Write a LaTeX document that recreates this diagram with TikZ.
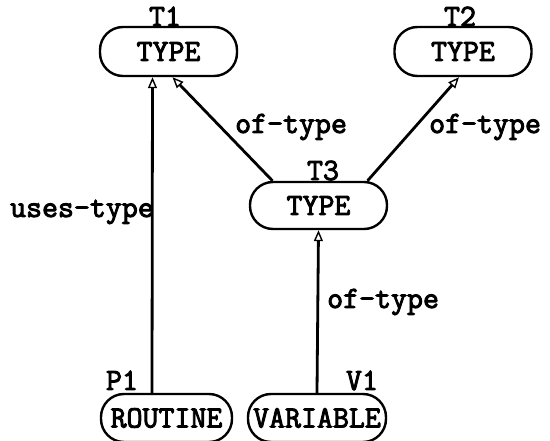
\documentclass[tikz,border=0pt]{standalone}
\usepackage{fontspec}
\newfontfamily\twfont{Latin Modern Mono}[FakeBold=3]
\usetikzlibrary{arrows.meta}
\begin{document}
\begin{tikzpicture}[x=1pt,y=-1pt,
  every node/.style={font=\twfont\fontsize{31}{33}\selectfont, inner sep=0pt},
  entity/.style={draw, line width=2.4pt, rounded corners=23pt, minimum width=137pt, minimum height=49pt},
  tag/.style={anchor=base},
  arr/.style={line width=2.8pt, -{Triangle[open, length=11pt, width=9pt, line width=1.4pt]}}]
\useasboundingbox (0,0) rectangle (550,441);
\node[entity] (t1) at (168.5,51.5) {TYPE};
\node[entity] (t2) at (463,51.5) {TYPE};
\node[entity, minimum height=47pt] (t3) at (318.5,205.5) {TYPE};
\node[entity, minimum width=131pt, minimum height=48pt] (p1) at (166.5,418) {ROUTINE};
\node[entity, minimum width=138pt, minimum height=48pt] (v1) at (317,418) {VARIABLE};
\node[tag] (lt1) at (165,26) {T1};
\node[tag] (lt2) at (460,26) {T2};
\node[tag] (lt3) at (323,180) {T3};
\node[tag] (lp1) at (122,390) {P1};
\node[tag] (lv1) at (362,390) {V1};
\draw[arr] ([xshift=-14.5pt]p1.north) -- ([xshift=-16pt]t1.south);
\draw[arr] ([xshift=-46pt]t3.north) -- ([xshift=4pt]t1.south);
\draw[arr] ([xshift=49pt]t3.north) -- ([xshift=-4pt]t2.south);
\draw[arr] (v1.north) -- (t3.south);
\node[anchor=base east] (e1) at (154,217) {uses-type};
\node[anchor=base west] (e2) at (235,133) {of-type};
\node[anchor=base west] (e3) at (429,133) {of-type};
\node[anchor=base west] (e4) at (327,308) {of-type};
\end{tikzpicture}
\end{document}
